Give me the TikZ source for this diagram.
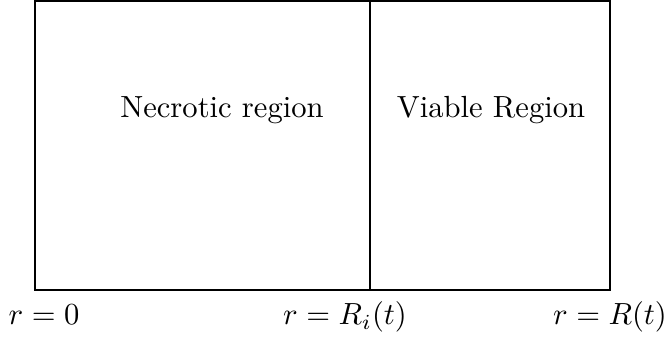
\documentclass[tikz,border=0pt]{standalone}
\begin{document}
\begin{tikzpicture}[x=0.3268pt,y=-0.3268pt,
  lbl/.style={inner sep=0pt,anchor=base},
  box/.style={draw=black,line width=0.4pt}]
\useasboundingbox (0,0) rectangle (670,341);
\coordinate (tl) at (35,1);
\coordinate (br) at (610,290);
\draw[box] (tl) rectangle (br);
\coordinate (mt) at (370,1);
\coordinate (mb) at (370,290);
\draw[box] (mt) -- (mb);
\node[lbl] (nec) at (222,118) {Necrotic region};
\node[lbl] (via) at (491,118) {Viable Region};
\node[lbl] (r0) at (44,325) {$r=0$};
\node[lbl] (ri) at (345,325) {$r=R_i(t)$};
\node[lbl] (rt) at (610,325) {$r=R(t)$};
\end{tikzpicture}
\end{document}
